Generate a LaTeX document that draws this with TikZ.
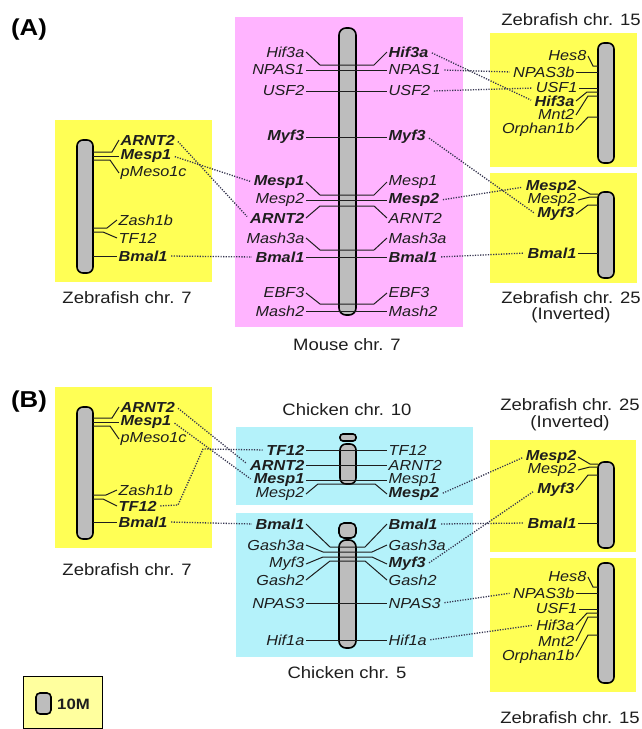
\documentclass[tikz,border=0pt]{standalone}
\usepackage{fontspec}
\setmainfont{Liberation Sans}[FakeStretch=1.12]
\definecolor{yel}{HTML}{FFFF55}
\definecolor{pnk}{HTML}{FFB4FF}
\definecolor{cyn}{HTML}{B4F2FA}
\definecolor{lyel}{HTML}{FFFF9E}
\definecolor{chg}{HTML}{BDBDBD}
\definecolor{txt}{HTML}{1E1E1E}
\definecolor{dotc}{HTML}{34344F}
\newcommand\gfont{\fontsize{14.5}{15}\selectfont\itshape}
\newcommand\tfont{\fontsize{16.5}{17}\selectfont}
\tikzset{
  gene/.style={font=\gfont, text=txt, inner xsep=1.5pt, inner ysep=0pt},
  gb/.style={font=\gfont\bfseries},
  gL/.style={anchor=east}, gR/.style={anchor=west},
  tick/.style={draw=txt, line width=1pt},
  dotl/.style={draw=dotc, line width=1.3pt, dash pattern=on 1.2pt off 1.4pt, shorten <=2pt, shorten >=2pt},
  chrom/.style={draw=black, line width=1.6pt, fill=chg, rounded corners=6pt},
  ttl/.style={font=\tfont, text=txt, inner sep=0pt},
  panel/.style={font=\fontsize{23}{23}\selectfont\bfseries, text=black, inner sep=0pt}
}
\begin{document}
\begin{tikzpicture}[x=1pt,y=-1pt]
\fill[white] (0,0) rectangle (641,729);
\useasboundingbox (0,0) rectangle (641,729);

%================ PANEL A =================
\node[panel] (labA) at (29,30) {(A)};
\fill[yel] (55,120) rectangle (212,282);
\fill[pnk] (235,17) rectangle (463,327);
\fill[yel] (490,33) rectangle (637,167);
\fill[yel] (490,173) rectangle (637,283);

\draw[chrom] (77,140) rectangle (93,273);
\draw[chrom,rounded corners=7pt] (339,28) rectangle (356,315);
\draw[chrom] (598,43) rectangle (614,163);
\draw[chrom] (598,192) rectangle (614,278);

% Zebrafish chr 7 (A)
\node[gene,gR,gb] (a7arnt) at (119,140) {ARNT2};
\node[gene,gR,gb] (a7mesp1) at (119,156) {Mesp1};
\node[gene,gR] (a7pmeso) at (119,173) {pMeso1c};
\node[gene,gR] (a7zash) at (117,220) {Zash1b};
\node[gene,gR] (a7tf) at (117,238) {TF12};
\node[gene,gR,gb] (a7bmal) at (117,256) {Bmal1};
\draw[tick] (93,152) -- (112,152) -- (a7arnt.west);
\draw[tick] (93,156) -- (a7mesp1.west);
\draw[tick] (93,160) -- (110,160) -- (a7pmeso.west);
\draw[tick] (93,228) -- (107,228) -- (a7zash.west);
\draw[tick] (93,232) -- (103,232) -- (a7tf.west);
\draw[tick] (93,256) -- (a7bmal.west);
\node[ttl] (a7t) at (127,298) {Zebrafish chr. 7};

% Mouse chr 7
\node[gene,gL] (mLhif) at (306,52) {Hif3a};
\node[gene,gR,gb] (mRhif) at (387,52) {Hif3a};
\draw[tick] (mLhif.east) -- (320,65) -- (374,65) -- (mRhif.west);
\node[gene,gL] (mLnpas) at (306,70) {NPAS1};
\node[gene,gR] (mRnpas) at (387,70) {NPAS1};
\draw[tick] (mLnpas) -- (mRnpas);
\node[gene,gL] (mLusf) at (306,91) {USF2};
\node[gene,gR] (mRusf) at (387,91) {USF2};
\draw[tick] (mLusf) -- (mRusf);
\node[gene,gL,gb] (mLmyf) at (306,137) {Myf3};
\node[gene,gR,gb] (mRmyf) at (387,137) {Myf3};
\draw[tick] (mLmyf) -- (mRmyf);
\node[gene,gL,gb] (mLmesp1) at (306,182) {Mesp1};
\node[gene,gR] (mRmesp1) at (387,182) {Mesp1};
\draw[tick] (mLmesp1.east) -- (320,195) -- (374,195) -- (mRmesp1.west);
\node[gene,gL] (mLmesp2) at (306,200) {Mesp2};
\node[gene,gR,gb] (mRmesp2) at (387,200) {Mesp2};
\draw[tick] (mLmesp2) -- (mRmesp2);
\node[gene,gL,gb] (mLarnt) at (306,218) {ARNT2};
\node[gene,gR] (mRarnt) at (387,218) {ARNT2};
\draw[tick] (mLarnt.east) -- (320,206) -- (374,206) -- (mRarnt.west);
\node[gene,gL] (mLmash3) at (306,238) {Mash3a};
\node[gene,gR] (mRmash3) at (387,238) {Mash3a};
\draw[tick] (mLmash3.east) -- (320,250) -- (374,250) -- (mRmash3.west);
\node[gene,gL,gb] (mLbmal) at (306,257) {Bmal1};
\node[gene,gR,gb] (mRbmal) at (387,257) {Bmal1};
\draw[tick] (mLbmal) -- (mRbmal);
\node[gene,gL] (mLebf) at (306,293) {EBF3};
\node[gene,gR] (mRebf) at (387,293) {EBF3};
\draw[tick] (mLebf.east) -- (320,304) -- (374,304) -- (mRebf.west);
\node[gene,gL] (mLmash2) at (306,311) {Mash2};
\node[gene,gR] (mRmash2) at (387,311) {Mash2};
\draw[tick] (mLmash2) -- (mRmash2);
\node[ttl] (mt) at (347,345) {Mouse chr. 7};

% Zebrafish chr 15 (A)
\node[ttl] (a15t) at (571,20) {Zebrafish chr. 15};
\node[gene,gL] (a15hes) at (588,56) {Hes8};
\node[gene,gL] (a15npas) at (576,72) {NPAS3b};
\node[gene,gL] (a15usf) at (579,88) {USF1};
\node[gene,gL,gb] (a15hif) at (576,101) {Hif3a};
\node[gene,gL] (a15mnt) at (576,115) {Mnt2};
\node[gene,gL] (a15orph) at (576,130) {Orphan1b};
\draw[tick] (a15hes.east) -- (593,66) -- (598,66);
\draw[tick] (a15npas.east) -- (598,72);
\draw[tick] (a15usf.east) -- (598,88);
\draw[tick] (a15hif.east) -- (587,92) -- (598,92);
\draw[tick] (a15mnt.east) -- (588,96) -- (598,96);
\draw[tick] (a15orph.east) -- (588,117) -- (598,117);

% Zebrafish chr 25 (A)
\node[gene,gL,gb] (a25mesp2b) at (578,187) {Mesp2};
\node[gene,gL] (a25mesp2) at (578,200) {Mesp2};
\node[gene,gL,gb] (a25myf) at (576,214) {Myf3};
\node[gene,gL,gb] (a25bmal) at (578,253) {Bmal1};
\draw[tick] (a25mesp2b.east) -- (590,194) -- (598,194);
\draw[tick] (a25mesp2.east) -- (590,197) -- (598,197);
\draw[tick] (a25myf.east) -- (588,205) -- (598,205);
\draw[tick] (a25bmal.east) -- (598,253);
\node[ttl] (a25t) at (571,298) {Zebrafish chr. 25};
\node[ttl] (a25inv) at (571,315) {(Inverted)};

% dotted A
\draw[dotl] (a7arnt.east) -- (mLarnt.west);
\draw[dotl] (a7mesp1.east) -- (mLmesp1.west);
\draw[dotl] (a7bmal.east) -- (mLbmal.west);
\draw[dotl] (mRhif.east) -- (a15hif.west);
\draw[dotl] (mRnpas.east) -- (a15npas.west);
\draw[dotl] (mRusf.east) -- (a15usf.west);
\draw[dotl] (mRmyf.east) -- (a25myf.west);
\draw[dotl] (mRmesp2.east) -- (a25mesp2b.west);
\draw[dotl] (mRbmal.east) -- (a25bmal.west);

%================ PANEL B =================
\node[panel] (labB) at (29,402) {(B)};
\fill[yel] (55,387) rectangle (212,548);
\fill[cyn] (236,427) rectangle (473,505);
\fill[cyn] (236,513) rectangle (473,657);
\fill[yel] (490,440) rectangle (636,552);
\fill[yel] (490,558) rectangle (636,692);

\draw[chrom] (77,407) rectangle (93,539);
\draw[chrom,rounded corners=3pt] (340,434) rectangle (356,441);
\draw[chrom] (340,444) rectangle (356,484);
\draw[chrom,rounded corners=5pt] (339,523) rectangle (356,538);
\draw[chrom,rounded corners=7pt] (339,540) rectangle (356,648);
\draw[chrom] (598,462) rectangle (614,548);
\draw[chrom] (598,563) rectangle (614,683);

% Zebrafish chr 7 (B)
\node[gene,gR,gb] (b7arnt) at (119,407) {ARNT2};
\node[gene,gR,gb] (b7mesp1) at (119,422) {Mesp1};
\node[gene,gR] (b7pmeso) at (119,439) {pMeso1c};
\node[gene,gR] (b7zash) at (117,490) {Zash1b};
\node[gene,gR,gb] (b7tf) at (117,506) {TF12};
\node[gene,gR,gb] (b7bmal) at (117,522) {Bmal1};
\draw[tick] (93,418) -- (112,418) -- (b7arnt.west);
\draw[tick] (93,422) -- (b7mesp1.west);
\draw[tick] (93,426) -- (110,426) -- (b7pmeso.west);
\draw[tick] (93,495) -- (106,495) -- (b7zash.west);
\draw[tick] (93,499) -- (103,499) -- (b7tf.west);
\draw[tick] (93,522) -- (b7bmal.west);
\node[ttl] (b7t) at (127,570) {Zebrafish chr. 7};

% Chicken chr 10
\node[ttl] (c10t) at (347,410) {Chicken chr. 10};
\node[gene,gL,gb] (cLtf) at (306,450) {TF12};
\node[gene,gR] (cRtf) at (387,450) {TF12};
\draw[tick] (cLtf) -- (cRtf);
\node[gene,gL,gb] (cLarnt) at (306,465) {ARNT2};
\node[gene,gR] (cRarnt) at (387,465) {ARNT2};
\draw[tick] (cLarnt) -- (cRarnt);
\node[gene,gL,gb] (cLmesp1) at (306,480) {Mesp1};
\node[gene,gR] (cRmesp1) at (387,480) {Mesp1};
\draw[tick] (cLmesp1) -- (cRmesp1);
\node[gene,gL] (cLmesp2) at (306,494) {Mesp2};
\node[gene,gR,gb] (cRmesp2) at (387,494) {Mesp2};
\draw[tick] (cLmesp2.east) -- (318,484) -- (375,484) -- (cRmesp2.west);

% Chicken chr 5
\node[gene,gL,gb] (c5Lbmal) at (306,524) {Bmal1};
\node[gene,gR,gb] (c5Rbmal) at (387,524) {Bmal1};
\draw[tick] (c5Lbmal.east) -- (330,547) -- (365,547) -- (c5Rbmal.west);
\node[gene,gL] (c5Lg3) at (306,545) {Gash3a};
\node[gene,gR] (c5Rg3) at (387,545) {Gash3a};
\draw[tick] (c5Lg3.east) -- (323,552) -- (372,552) -- (c5Rg3.west);
\node[gene,gL] (c5Lmyf) at (306,564) {Myf3};
\node[gene,gR,gb] (c5Rmyf) at (387,564) {Myf3};
\draw[tick] (c5Lmyf.east) -- (323,557) -- (372,557) -- (c5Rmyf.west);
\node[gene,gL] (c5Lg2) at (306,580) {Gash2};
\node[gene,gR] (c5Rg2) at (387,580) {Gash2};
\draw[tick] (c5Lg2.east) -- (330,561) -- (365,561) -- (c5Rg2.west);
\node[gene,gL] (c5Lnpas) at (306,603) {NPAS3};
\node[gene,gR] (c5Rnpas) at (387,603) {NPAS3};
\draw[tick] (c5Lnpas) -- (c5Rnpas);
\node[gene,gL] (c5Lhif) at (306,640) {Hif1a};
\node[gene,gR] (c5Rhif) at (387,640) {Hif1a};
\draw[tick] (c5Lhif) -- (c5Rhif);
\node[ttl] (c5t) at (347,673) {Chicken chr. 5};

% Zebrafish chr 25 (B)
\node[ttl] (b25t) at (570,405) {Zebrafish chr. 25};
\node[ttl] (b25inv) at (570,423) {(Inverted)};
\node[gene,gL,gb] (b25mesp2b) at (578,457) {Mesp2};
\node[gene,gL] (b25mesp2) at (578,470) {Mesp2};
\node[gene,gL,gb] (b25myf) at (576,490) {Myf3};
\node[gene,gL,gb] (b25bmal) at (578,523) {Bmal1};
\draw[tick] (b25mesp2b.east) -- (590,464) -- (598,464);
\draw[tick] (b25mesp2.east) -- (590,467) -- (598,467);
\draw[tick] (b25myf.east) -- (588,475) -- (598,475);
\draw[tick] (b25bmal.east) -- (598,523);

% Zebrafish chr 15 (B)
\node[gene,gL] (b15hes) at (588,577) {Hes8};
\node[gene,gL] (b15npas) at (576,593) {NPAS3b};
\node[gene,gL] (b15usf) at (579,609) {USF1};
\node[gene,gL] (b15hif) at (576,625) {Hif3a};
\node[gene,gL] (b15mnt) at (576,641) {Mnt2};
\node[gene,gL] (b15orph) at (576,657) {Orphan1b};
\draw[tick] (b15hes.east) -- (593,587) -- (598,587);
\draw[tick] (b15npas.east) -- (598,593);
\draw[tick] (b15usf.east) -- (598,609);
\draw[tick] (b15hif.east) -- (587,613) -- (598,613);
\draw[tick] (b15mnt.east) -- (588,617) -- (598,617);
\draw[tick] (b15orph.east) -- (588,635) -- (598,635);
\node[ttl] (b15t) at (570,718) {Zebrafish chr. 15};

% dotted B
\coordinate (tfb1) at (178,505);
\coordinate (tfb2) at (203,449);
\draw[dotl] (b7arnt.east) -- (cLarnt.west);
\draw[dotl] (b7mesp1.east) -- (cLmesp1.west);
\draw[dotl] (b7tf.east) -- (tfb1) -- (tfb2) -- (cLtf.west);
\draw[dotl] (b7bmal.east) -- (c5Lbmal.west);
\draw[dotl] (cRmesp2.east) -- (b25mesp2b.west);
\draw[dotl] (c5Rbmal.east) -- (b25bmal.west);
\draw[dotl] (c5Rmyf.east) -- (b25myf.west);
\draw[dotl] (c5Rnpas.east) -- (b15npas.west);
\draw[dotl] (c5Rhif.east) -- (b15hif.west);

% legend
\draw[fill=lyel, line width=1pt] (23,676) rectangle (102,728);
\draw[chrom,rounded corners=4pt] (36,693) rectangle (51,714);
\node[font=\fontsize{15}{15}\selectfont\bfseries, text=txt, anchor=west, inner sep=0pt] (leg) at (57,704) {10M};
\end{tikzpicture}
\end{document}
